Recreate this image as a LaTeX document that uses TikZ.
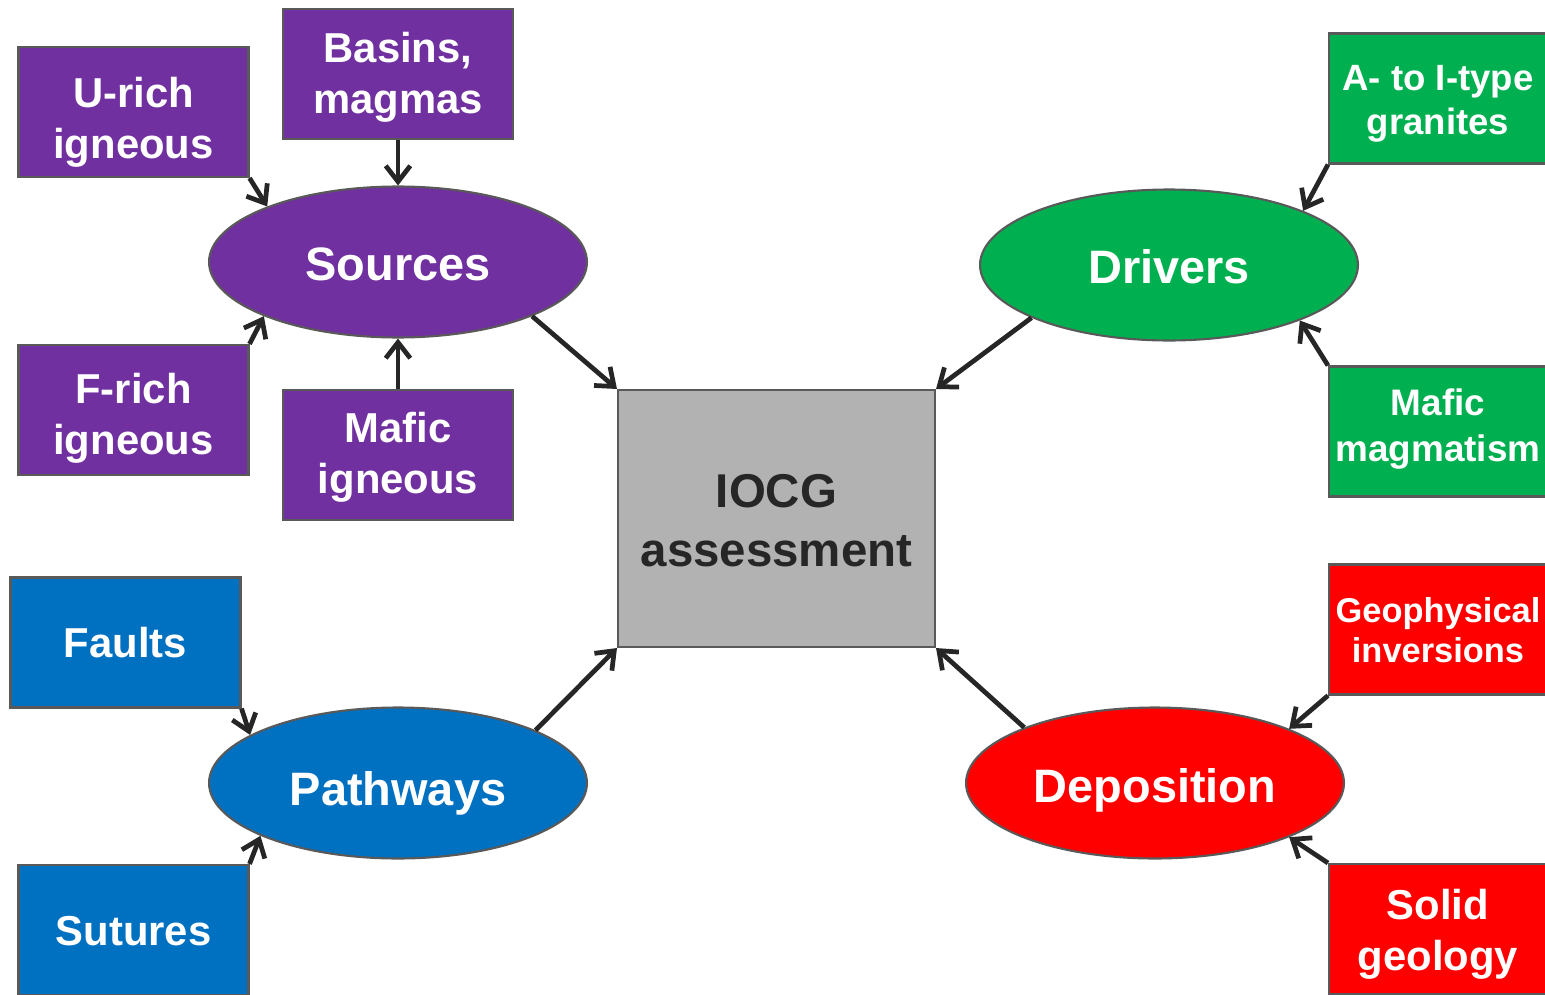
\documentclass[tikz,border=0pt]{standalone}
\usepackage{fontspec}
\setmainfont{Liberation Sans}
\usetikzlibrary{shapes.geometric,arrows.meta}
\definecolor{cpurple}{HTML}{7030A0}
\definecolor{cgreen}{HTML}{00B050}
\definecolor{cred}{HTML}{FF0000}
\definecolor{cblue}{HTML}{0070C0}
\definecolor{cgray}{HTML}{B2B2B2}
\definecolor{cborder}{HTML}{595959}
\definecolor{carrow}{HTML}{262626}
\newlength\pxu
\setlength\pxu{0.02cm}
\newcommand\tr[1]{\rule{0pt}{#1\pxu}}
\newcommand\br[1]{\rule[-#1\pxu]{0pt}{#1\pxu}}
\tikzset{
  box/.style={draw=cborder, line width=1.2pt, rectangle, minimum width=4.6cm, minimum height=2.6cm, inner sep=0pt, align=center, text=white, font=\bfseries\fontsize{23.8pt}{29.5pt}\selectfont},
  oval/.style={draw=cborder, line width=1.2pt, ellipse, minimum width=7.56cm, minimum height=3.02cm, inner sep=0pt, text=white, font=\bfseries\fontsize{26.7pt}{32pt}\selectfont},
  conn/.style={draw=carrow, line width=2.7pt, -{Straight Barb[length=9pt,width=14pt,line width=2.7pt]}}
}
\begin{document}
\begin{tikzpicture}[x=0.02cm,y=-0.02cm]
\useasboundingbox (0,0) rectangle (1545,994);
% central
\node[draw=cborder, line width=1.2pt, fill=cgray, minimum width=6.34cm, minimum height=5.14cm, inner sep=0pt, align=center, text=carrow, font=\bfseries\fontsize{27pt}{34pt}\selectfont] (iocg) at (776.5,518.5) {\tr{52}IOCG\\assessment\br{15}};
% ellipses
\node[oval, fill=cpurple] (src) at (398,262) {\tr{51}Sources\br{15}};
\node[oval, fill=cgreen] (drv) at (1169,265) {\tr{51}Drivers\br{15}};
\node[oval, fill=cblue] (pth) at (398,783) {\tr{59}Pathways\br{15}};
\node[oval, fill=cred] (dep) at (1155,783) {\tr{53}Deposition\br{15}};
% purple boxes
\node[box, fill=cpurple] (urich) at (133.5,112) {\tr{55}U-rich\\igneous\br{13}};
\node[box, fill=cpurple] (basins) at (398,74) {\tr{41}Basins,\\magmas\br{13}};
\node[box, fill=cpurple] (frich) at (133.5,410) {\tr{51}F-rich\\igneous\br{13}};
\node[box, fill=cpurple] (mafig) at (398,455) {\tr{39}Mafic\\igneous\br{13}};
% green boxes
\node[box, fill=cgreen, minimum width=4.36cm, font=\bfseries\fontsize{20.8pt}{25.5pt}\selectfont] (agran) at (1438,98.5) {\tr{39}A- to I-type\\granites\br{11}};
\node[box, fill=cgreen, minimum width=4.36cm, font=\bfseries\fontsize{21pt}{26.6pt}\selectfont] (mafmag) at (1438,431.5) {\tr{35}Mafic\\magmatism\br{21}};
% blue boxes
\node[box, fill=cblue] (faults) at (125.5,642.5) {\tr{42}Faults\br{13}};
\node[box, fill=cblue] (sutures) at (133.5,930) {\tr{43}Sutures\br{13}};
% red boxes
\node[box, fill=cred, minimum width=4.36cm, font=\bfseries\fontsize{19.6pt}{23.2pt}\selectfont] (geoph) at (1438,629.5) {\tr{37}Geophysical\\inversions\br{11}};
\node[box, fill=cred, minimum width=4.36cm] (solid) at (1438,929) {\tr{45}Solid\\geology\br{13}};
% connectors
\draw[conn] (urich.south east) -- (src.157.5);
\draw[conn] (basins.south) -- (src.north);
\draw[conn] (frich.north east) -- (src.202.5);
\draw[conn] (mafig.north) -- (src.south);
\draw[conn] (src.338.4) -- (iocg.north west);
\draw[conn] (drv.201.7) -- (iocg.north east);
\draw[conn] (agran.south west) -- (drv.22.3);
\draw[conn] (mafmag.north west) -- (drv.337.8);
\draw[conn] (pth.21.9) -- (iocg.south west);
\draw[conn] (dep.157.9) -- (iocg.south east);
\draw[conn] (geoph.south west) -- (dep.22.2);
\draw[conn] (solid.north west) -- (dep.338.2);
\draw[conn] (faults.south east) -- (pth.162);
\draw[conn] (sutures.north east) -- (pth.201.3);
\end{tikzpicture}
\end{document}
